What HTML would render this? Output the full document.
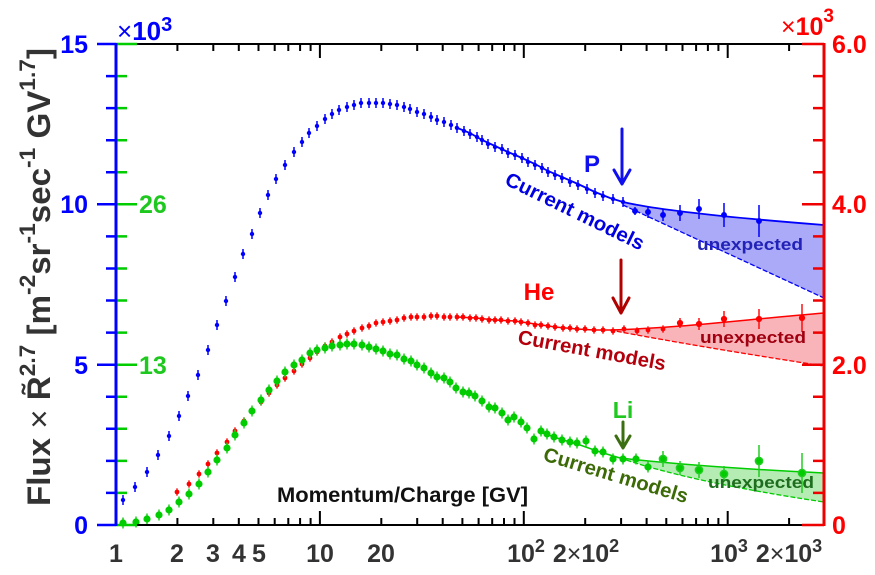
<!DOCTYPE html>
<html>
<head>
<meta charset="utf-8">
<style>
html,body{margin:0;padding:0;background:#fff;}
svg{display:block;}
</style>
</head>
<body>
<svg xmlns="http://www.w3.org/2000/svg" width="875" height="575" viewBox="0 0 875 575" font-family="'Liberation Sans', Arial, sans-serif">
<rect width="875" height="575" fill="#fff"/>
<defs>
  <marker id="mP" markerUnits="userSpaceOnUse" markerWidth="12" markerHeight="20" refX="6" refY="10" overflow="visible">
    <line x1="6" y1="5" x2="6" y2="15" stroke="#0000ff" stroke-width="1.5"/>
    <circle cx="6" cy="10" r="2.2" fill="#0000ff"/>
  </marker>
  <marker id="mHe" markerUnits="userSpaceOnUse" markerWidth="12" markerHeight="20" refX="6" refY="10" overflow="visible">
    <line x1="6" y1="6.3" x2="6" y2="13.7" stroke="#ff0000" stroke-width="1.3"/>
    <circle cx="6" cy="10" r="2.4" fill="#ff0000"/>
  </marker>
  <marker id="mLi" markerUnits="userSpaceOnUse" markerWidth="12" markerHeight="20" refX="6" refY="10" overflow="visible">
    <line x1="6" y1="4.5" x2="6" y2="15.5" stroke="#22cc22" stroke-width="1.5"/>
    <circle cx="6" cy="10" r="3.6" fill="#00cc00"/>
  </marker>
</defs>

<!-- fills -->
<path d="M623,202 Q670,213 824,225 L824,298 L623,205 Z" fill="#aaaaf8"/>
<path d="M610,330 C680,328 740,320 824,313 L824,366 Q700,347 610,330 Z" fill="#f8b4b8"/>
<path d="M620,458 Q700,467 824,473 L824,502 Q690,482 620,458 Z" fill="#b4ecb4"/>

<!-- model lines -->
<g fill="none">
  <polyline points="455,127 470,133 482,140 495,146 508,152 522,158 535,164 548,171 562,177 578,184 595,192 610,198 623,202" stroke="#0000ff" stroke-width="1.8"/>
  <path d="M623,202 Q670,213 824,225" stroke="#0000ff" stroke-width="1.8"/>
  <path d="M623,205 L824,298" stroke="#0000ff" stroke-width="1.3" stroke-dasharray="5,2"/>

  <polyline points="457,317 476,318 495,320 515,321 535,324 555,327 577,329 594,330 610,330" stroke="#ff0000" stroke-width="1.5"/>
  <path d="M610,330 C680,328 740,320 824,313" stroke="#ff0000" stroke-width="1.5"/>
  <path d="M610,330 Q700,347 824,366" stroke="#ff0000" stroke-width="1.3" stroke-dasharray="5,2"/>

  <polyline points="540,432 560,439 580,445 600,452 620,458" stroke="#00cc00" stroke-width="1.5"/>
  <path d="M620,458 Q700,467 824,473" stroke="#00cc00" stroke-width="1.5"/>
  <path d="M620,458 Q690,482 824,502" stroke="#00cc00" stroke-width="1.3" stroke-dasharray="5,2"/>
</g>

<!-- P data -->
<polyline fill="none" stroke="none" marker-start="url(#mP)" marker-mid="url(#mP)" marker-end="url(#mP)"
 points="123,500 135,487 147,472 158,455 169,436 179,416 188,396 198,375 208,350 217,325 226,301 235,277 243,254 252,234 260,213 268,195 276,179 285,165 294,152 302,142 309,133 317,126 325,119 332,114 339,110 347,107 354,105 361,103 369,103 376,103 383,103 390,104 397,105 404,107 410,109 417,112 424,114 431,117 437,120 444,122 451,125 457,128 464,131 470,134 477,137 482,140 488,144 495,147 502,149 508,153 515,155 522,158 528,162 535,165 542,168 548,172 555,175 562,178 570,182 578,185 587,189 595,193 603,196 613,199 623,202"/>
<g stroke="#0000ff" stroke-width="1.5" fill="#0000ff">
  <line x1="635" y1="207" x2="635" y2="215"/><circle cx="635" cy="211" r="2.2"/>
  <line x1="648" y1="206" x2="648" y2="218"/><circle cx="648" cy="212" r="2.2"/>
  <line x1="663" y1="209" x2="663" y2="221"/><circle cx="663" cy="215" r="2.2"/>
  <line x1="680" y1="205" x2="680" y2="221"/><circle cx="680" cy="213" r="2.2"/>
  <line x1="699" y1="199" x2="699" y2="219"/><circle cx="699" cy="209" r="2.2"/>
  <line x1="724" y1="203" x2="724" y2="227"/><circle cx="724" cy="215" r="2.2"/>
  <line x1="759" y1="205" x2="759" y2="237"/><circle cx="759" cy="221" r="2.2"/>
</g>

<!-- He data -->
<polyline fill="none" stroke="none" marker-start="url(#mHe)" marker-mid="url(#mHe)" marker-end="url(#mHe)"
 points="177,492 189,484 199,474 208,464 217,453 227,442 235,431 244,421 252,411 261,402 269,393 277,385 285,378 294,371 302,364 310,358 317,352 325,346 332,342 340,337 347,334 354,331 362,328 369,326 376,323 383,322 390,321 397,320 404,318 411,317 417,317 424,317 431,316 437,316 444,317 450,317 457,317 463,317 470,318 476,318 482,319 489,320 495,320 501,320 508,321 515,321 521,322 528,323 535,325 541,325 548,326 555,327 563,328 570,328 577,329 585,329 594,330 603,330 613,331 624,329 637,331 648,330 663,329"/>
<g stroke="#ff0000" stroke-width="1.4" fill="#ff0000">
  <line x1="680" y1="318" x2="680" y2="328"/><circle cx="680" cy="323" r="2.4"/>
  <line x1="699" y1="318" x2="699" y2="330"/><circle cx="699" cy="324" r="2.4"/>
  <line x1="724" y1="311" x2="724" y2="327"/><circle cx="724" cy="319" r="2.4"/>
  <line x1="759" y1="309" x2="759" y2="329"/><circle cx="759" cy="319" r="2.4"/>
  <line x1="802" y1="304" x2="802" y2="332"/><circle cx="802" cy="318" r="2.4"/>
</g>

<!-- Li data -->
<polyline fill="none" stroke="none" marker-start="url(#mLi)" marker-mid="url(#mLi)" marker-end="url(#mLi)"
 points="123,523 136,522 147,519 159,515 169,510 179,502 189,494 199,484 208,472 217,460 227,448 235,435 244,423 252,411 261,400 269,390 277,381 285,372 294,365 302,360 310,353 317,350 325,348 332,346 340,345 347,344 354,344 362,345 369,347 376,349 383,351 390,354 397,355 404,359 411,361 417,365 424,368 431,373 437,377 444,378 450,382 456,388 463,392 469,393 475,396 482,401 489,407 495,408 502,413 508,420 514,417 521,422 527,428 534,439 541,431 547,434 554,437 562,440 570,442 577,443 586,441 595,451 603,452 613,459 623,459 636,459 648,467"/>
<g stroke="#22cc22" stroke-width="1.5" fill="#00cc00">
  <line x1="663" y1="451" x2="663" y2="467"/><circle cx="663" cy="459" r="3.6"/>
  <line x1="680" y1="461" x2="680" y2="475"/><circle cx="680" cy="468" r="3.6"/>
  <line x1="699" y1="462" x2="699" y2="478"/><circle cx="699" cy="470" r="3.6"/>
  <line x1="724" y1="466" x2="724" y2="482"/><circle cx="724" cy="474" r="3.6"/>
  <line x1="759" y1="445" x2="759" y2="477"/><circle cx="759" cy="461" r="3.6"/>
  <line x1="802" y1="453" x2="802" y2="493"/><circle cx="802" cy="473" r="3.6"/>
</g>

<!-- arrows -->
<g fill="none" stroke-width="3" stroke-linecap="round" stroke-linejoin="round">
  <path d="M622,129 L622,183 M614,170 L622,184 L630,170" stroke="#1010ee"/>
  <path d="M621,260 L621,312 M613,298 L621,313 L629,298" stroke="#b00000"/>
  <path d="M623,422 L623,447 M616,436 L623,448 L630,436" stroke="#3b6d11"/>
</g>

<!-- labels -->
<g font-weight="bold">
  <text x="592" y="172" font-size="24" fill="#1010ee" text-anchor="middle">P</text>
  <text x="539" y="300" font-size="24" fill="#ff0000" text-anchor="middle">He</text>
  <text x="623" y="418" font-size="23" fill="#1ec81e" text-anchor="middle">Li</text>

  <text transform="translate(575,211) rotate(26)" x="0" y="7" font-size="20" fill="#0000e0" text-anchor="middle" textLength="152" lengthAdjust="spacingAndGlyphs">Current models</text>
  <text transform="translate(592,350) rotate(10.4)" x="0" y="7" font-size="20" fill="#b4000c" text-anchor="middle" textLength="150" lengthAdjust="spacingAndGlyphs">Current models</text>
  <text transform="translate(616,475) rotate(16.7)" x="0" y="7" font-size="20" fill="#3b6a06" text-anchor="middle" textLength="150" lengthAdjust="spacingAndGlyphs">Current models</text>

  <text x="750" y="250" font-size="17" fill="#2222b8" text-anchor="middle" textLength="106" lengthAdjust="spacingAndGlyphs">unexpected</text>
  <text x="753" y="343" font-size="17" fill="#a00010" text-anchor="middle" textLength="106" lengthAdjust="spacingAndGlyphs">unexpected</text>
  <text x="761" y="488" font-size="17" fill="#1f6e1f" text-anchor="middle" textLength="106" lengthAdjust="spacingAndGlyphs">unexpected</text>

  <text x="277" y="502" font-size="21" fill="#111" textLength="251" lengthAdjust="spacingAndGlyphs">Momentum/Charge [GV]</text>
</g>

<!-- frame top/bottom -->
<g stroke="#000" stroke-width="2">
  <line x1="116" y1="44" x2="824" y2="44"/>
  <line x1="116" y1="525" x2="824" y2="525"/>
</g>
<!-- x ticks -->
<g stroke="#000" stroke-width="2">
  <path d="M177.4,525v-7M213.3,525v-7M238.8,525v-7M258.5,525v-7M274.7,525v-7M288.3,525v-7M300.1,525v-7M310.6,525v-7M381.3,525v-7M417.2,525v-7M442.7,525v-7M462.4,525v-7M478.6,525v-7M492.2,525v-7M504,525v-7M514.5,525v-7M585.2,525v-7M621.1,525v-7M646.6,525v-7M666.3,525v-7M682.5,525v-7M696.1,525v-7M707.9,525v-7M718.4,525v-7M789.1,525v-7"/>
  <path d="M319.9,525v-14M523.8,525v-14M727.7,525v-14"/>
  <path d="M177.4,44v7M213.3,44v7M238.8,44v7M258.5,44v7M274.7,44v7M288.3,44v7M300.1,44v7M310.6,44v7M381.3,44v7M417.2,44v7M442.7,44v7M462.4,44v7M478.6,44v7M492.2,44v7M504,44v7M514.5,44v7M585.2,44v7M621.1,44v7M646.6,44v7M666.3,44v7M682.5,44v7M696.1,44v7M707.9,44v7M718.4,44v7M789.1,44v7"/>
  <path d="M319.9,44v14M523.8,44v14M727.7,44v14"/>
</g>

<!-- left axis -->
<g stroke-width="2.5">
  <path stroke="#00cc00" d="M116,525h21M116,492.9h11M116,460.9h11M116,428.8h11M116,396.7h11M116,364.7h21M116,332.6h11M116,300.5h11M116,268.5h11M116,236.4h11M116,204.3h21M116,172.3h11M116,140.2h11M116,108.1h11M116,76.1h11M116,44h21"/>
  <path stroke="#0000ff" d="M116,525h-19M116,492.9h-10M116,460.9h-10M116,428.8h-10M116,396.7h-10M116,364.7h-19M116,332.6h-10M116,300.5h-10M116,268.5h-10M116,236.4h-10M116,204.3h-19M116,172.3h-10M116,140.2h-10M116,108.1h-10M116,76.1h-10M116,44h-19"/>
  <line x1="116" y1="43" x2="116" y2="526" stroke="#0000ff" stroke-width="3"/>
</g>
<!-- right axis -->
<g stroke-width="2.5" stroke="#ee0000">
  <path d="M824,525h-22M824,492.9h-11M824,460.9h-11M824,428.8h-11M824,396.7h-11M824,364.7h-22M824,332.6h-11M824,300.5h-11M824,268.5h-11M824,236.4h-11M824,204.3h-22M824,172.3h-11M824,140.2h-11M824,108.1h-11M824,76.1h-11M824,44h-22"/>
  <line x1="824" y1="43" x2="824" y2="526" stroke-width="3"/>
</g>

<!-- axis numbers -->
<g font-weight="bold" font-size="25">
  <g fill="#0000ff" text-anchor="end">
    <text x="88" y="53">15</text>
    <text x="88" y="213">10</text>
    <text x="88" y="374">5</text>
    <text x="88" y="534">0</text>
  </g>
  <g fill="#1ec81e">
    <text x="139" y="213">26</text>
    <text x="139" y="374">13</text>
  </g>
  <g fill="#ff0000">
    <text x="832" y="53">6.0</text>
    <text x="832" y="213">4.0</text>
    <text x="832" y="374">2.0</text>
    <text x="832" y="534">0</text>
  </g>
  <g fill="#333" text-anchor="middle">
    <text x="116" y="562">1</text>
    <text x="177" y="562">2</text>
    <text x="213" y="562">3</text>
    <text x="239" y="562">4</text>
    <text x="259" y="562">5</text>
    <text x="320" y="562">10</text>
    <text x="381" y="562">20</text>
    <text x="526" y="562">10<tspan font-size="18" dy="-10">2</tspan></text>
    <text x="586" y="562">2<tspan font-weight="normal">×</tspan>10<tspan font-size="18" dy="-10">2</tspan></text>
    <text x="729" y="562">10<tspan font-size="18" dy="-10">3</tspan></text>
    <text x="789" y="562">2<tspan font-weight="normal">×</tspan>10<tspan font-size="18" dy="-10">3</tspan></text>
  </g>
</g>

<!-- multipliers -->
<text x="117" y="40" font-size="26" fill="#0000ff" font-weight="bold"><tspan font-weight="normal">×</tspan>10<tspan font-size="20" dy="-9">3</tspan></text>
<text x="781" y="35" font-size="25" fill="#ff0000" font-weight="bold"><tspan font-weight="normal">×</tspan>10<tspan font-size="19" dy="-13">3</tspan></text>

<!-- y label -->
<text transform="translate(50,506) rotate(-90)" font-size="32" font-weight="bold" fill="#333" textLength="458" lengthAdjust="spacingAndGlyphs">Flux <tspan font-weight="normal">×</tspan> R&#771;<tspan font-size="22" dy="-15">2.7</tspan><tspan dy="15"> [m</tspan><tspan font-size="22" dy="-15">-2</tspan><tspan dy="15">sr</tspan><tspan font-size="22" dy="-15">-1</tspan><tspan dy="15">sec</tspan><tspan font-size="22" dy="-15">-1</tspan><tspan dy="15"> GV</tspan><tspan font-size="22" dy="-15">1.7</tspan><tspan dy="15">]</tspan></text>
</svg>
</body>
</html>
